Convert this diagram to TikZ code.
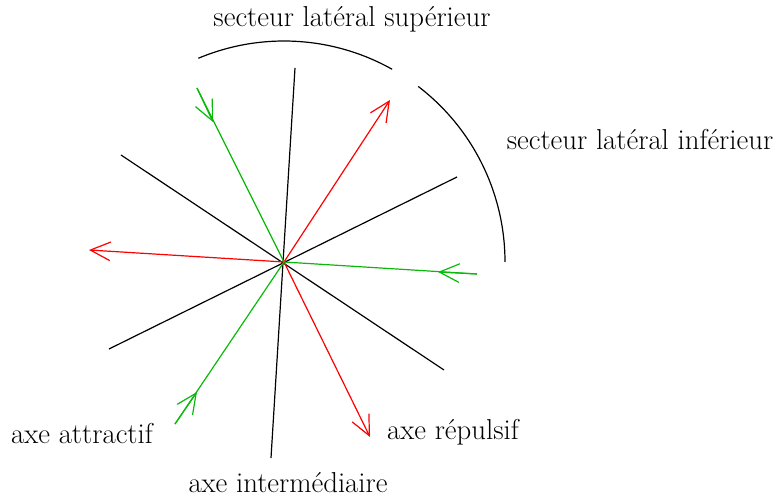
\documentclass[tikz,border=0pt]{standalone}
\usetikzlibrary{arrows.meta}
\definecolor{vert}{RGB}{10,185,10}

\begin{document}
\begin{tikzpicture}[x=0.75pt,y=0.75pt,line width=0.9pt,
        >={Straight Barb[length=15pt,width=14pt,line width=0.9pt]},
        lbl/.style={inner sep=0pt,font=\fontsize{21.6}{26}\selectfont}]
            \useasboundingbox (-284,-237) rectangle (495,262);
            \coordinate (O) at (0,0);
            % les trois axes
            \draw (11,194) -- (-13,-196);
            \draw (-163,107) -- (160,-108);
            \draw (173,85) -- (-175,-87);
            % secteurs
            \draw (O) ++(112.8:221) arc[start angle=112.8,end angle=60.7,radius=221];
            \draw (O) ++(52.6:221) arc[start angle=52.6,end angle=0,radius=221];
            % vecteurs
            \foreach \x/\y in {106/162,-195/12,86/-175}
                {\draw[red,->] (O) -- (\x,\y);}
            \foreach \x/\y/\u/\v in {-87/174/-71/140,193/-12/154/-10,-109/-162/-87/-130}
                {
                    \draw[vert] (\x,\y) -- (O);
                    \draw[vert,->] (\x,\y) -- (\u,\v);
                }
            \node[lbl] (sup) at (68,243) {secteur latéral supérieur};
            \node[lbl] (inf) at (356,122) {secteur latéral inférieur};
            \node[lbl] (att) at (-202,-172) {axe attractif};
            \node[lbl] (rep) at (169,-170) {axe répulsif};
            \node[lbl] (int) at (4,-221) {axe intermédiaire};
        \end{tikzpicture}
\end{document}
